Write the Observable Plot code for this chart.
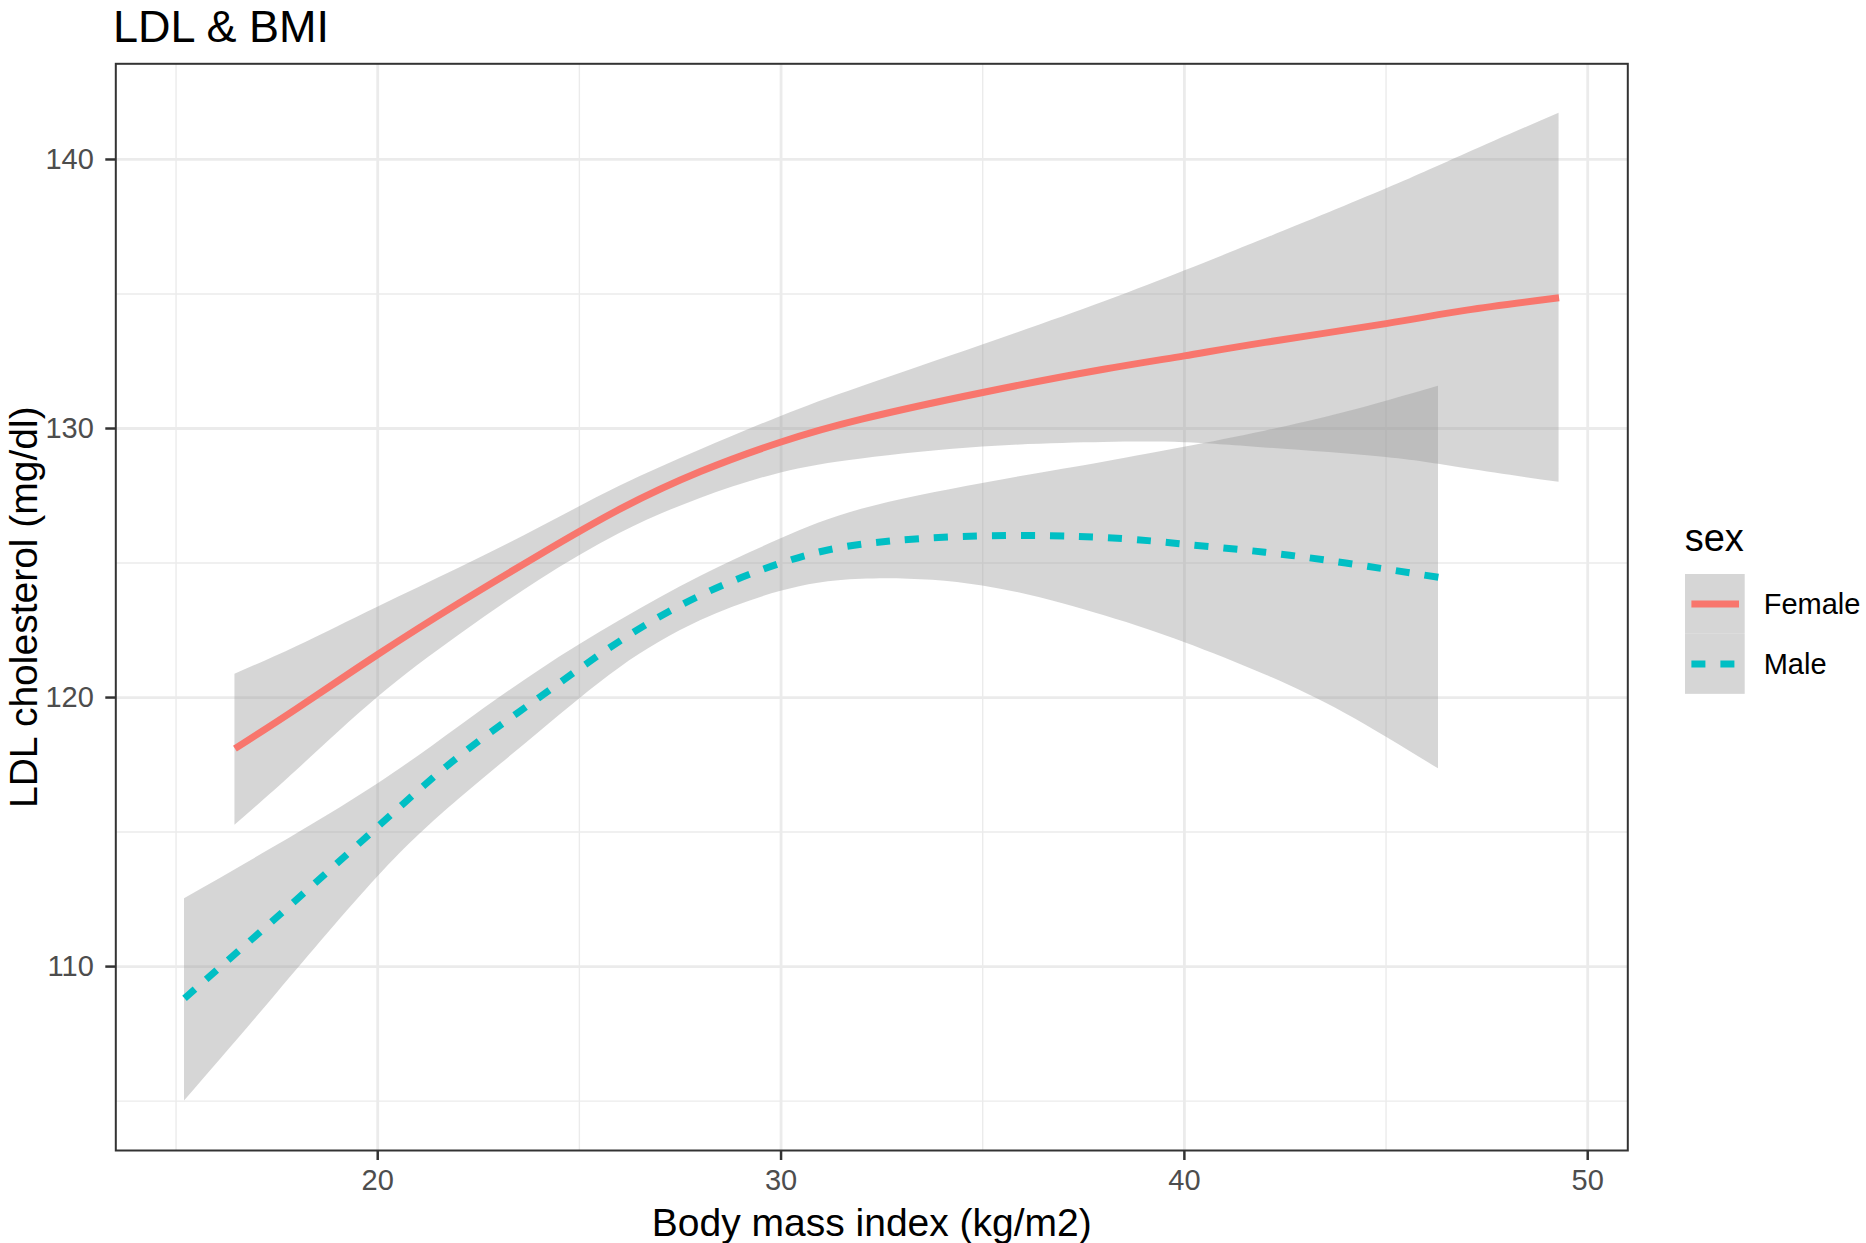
<!DOCTYPE html>
<html>
<head>
<meta charset="utf-8">
<script src="https://cdn.jsdelivr.net/npm/d3@7"></script>
<script src="https://cdn.jsdelivr.net/npm/@observablehq/plot@0.6"></script>
<style>
  body { margin: 0; background: #fff; }
  #wrap { position: relative; width: 1866px; height: 1243px; overflow: hidden; background: #fff;
          font-family: "Liberation Sans", Arial, Helvetica, sans-serif; color: #000; }
  #title { position: absolute; left: 113px; top: 4px; font-size: 45px; line-height: 45px; white-space: nowrap; }
  #chart { position: absolute; left: 0; top: 48px; }
  .leg { position: absolute; white-space: nowrap; }
  .legkey { position: absolute; }
</style>
</head>
<body>
<div id="wrap">
  <div id="title">LDL &amp; BMI</div>
  <div id="chart"></div>
  <div id="legend"></div>
</div>
<script>
// ---- data ----
const femaleBMI   = [16.46, 18, 20, 22, 24, 26, 28, 30, 32, 35, 38, 40, 42, 45, 47, 49.29];
const femaleFit   = [118.1, 119.6, 121.6, 123.5, 125.3, 127.0, 128.4, 129.5, 130.35, 131.34, 132.2, 132.7, 133.2, 133.9, 134.4, 134.86];
const femaleUpper = [120.87, 121.9, 123.36, 124.8, 126.3, 127.85, 129.2, 130.45, 131.55, 133.1, 134.7, 135.85, 137.05, 138.9, 140.22, 141.72];
const femaleLower = [115.25, 117.3, 120.0, 122.3, 124.35, 126.1, 127.4, 128.35, 128.87, 129.31, 129.48, 129.47, 129.28, 128.92, 128.5, 128.0];

const maleBMI   = [15.21, 17.5, 20, 22, 24, 26, 28, 30, 32, 35, 38, 40, 42, 44, 46.3];
const maleFit   = [108.82, 111.84, 115.2, 117.8, 120.0, 122.1, 123.8, 125.0, 125.7, 126.01, 125.95, 125.7, 125.4, 125.0, 124.47];
const maleUpper = [112.52, 114.5, 116.79, 118.9, 121.0, 122.85, 124.5, 125.9, 127.0, 127.96, 128.75, 129.3, 129.9, 130.6, 131.57];
const maleLower = [105.0, 109.0, 113.33, 116.2, 118.7, 121.1, 122.85, 123.95, 124.4, 124.15, 123.05, 122.05, 120.85, 119.4, 117.35];

const sexLevels = ["Female", "Male"];
const sexColors = ["#F8766D", "#00BFC4"];
const sexDash = [null, "14,15"];

const xTicks = [20, 30, 40, 50];
const xMinor = [15, 25, 35, 45];
const yTicks = [110, 120, 130, 140];
const yMinor = [105, 115, 125, 135];

const titleText = "LDL & BMI";
const xLabel = "Body mass index (kg/m2)";
const yLabel = "LDL cholesterol (mg/dl)";
const legendTitle = "sex";

// ---- build tables ----
const femaleRows = femaleBMI.map((x, i) => ({x, fit: femaleFit[i], lo: femaleLower[i], hi: femaleUpper[i]}));
const maleRows = maleBMI.map((x, i) => ({x, fit: maleFit[i], lo: maleLower[i], hi: maleUpper[i]}));

// ggplot-style 5% expansion of data ranges
const allX = femaleBMI.concat(maleBMI);
const allY = femaleUpper.concat(femaleLower, maleUpper, maleLower);
const xmin = d3.min(allX), xmax = d3.max(allX);
const ymin = d3.min(allY), ymax = d3.max(allY);
const ex = 0.05 * (xmax - xmin), ey = 0.05 * (ymax - ymin);

const FONT = '"Liberation Sans", Arial, Helvetica, sans-serif';
const H = 1243 - 48;
const LW = 7;

const chart = Plot.plot({
  width: 1866,
  height: H,
  marginLeft: 115.3,
  marginRight: 238.7,
  marginTop: 15.3,
  marginBottom: 93,
  x: {domain: [xmin - ex, xmax + ex]},
  y: {domain: [ymin - ey, ymax + ey]},
  style: {fontFamily: FONT, background: "white", overflow: "visible"},
  marks: [
    Plot.ruleX(xMinor, {stroke: "#EBEBEB", strokeWidth: 1.4}),
    Plot.ruleY(yMinor, {stroke: "#EBEBEB", strokeWidth: 1.4}),
    Plot.ruleX(xTicks, {stroke: "#EBEBEB", strokeWidth: 2.8}),
    Plot.ruleY(yTicks, {stroke: "#EBEBEB", strokeWidth: 2.8}),
    Plot.areaY(femaleRows, {x: "x", y1: "lo", y2: "hi", fill: "#999999", fillOpacity: 0.4, curve: "natural"}),
    Plot.line(femaleRows, {x: "x", y: "fit", stroke: sexColors[0], strokeWidth: LW, strokeLinecap: "butt", curve: "natural"}),
    Plot.areaY(maleRows, {x: "x", y1: "lo", y2: "hi", fill: "#999999", fillOpacity: 0.4, curve: "natural"}),
    Plot.line(maleRows, {x: "x", y: "fit", stroke: sexColors[1], strokeWidth: LW, strokeLinecap: "butt", strokeDasharray: sexDash[1], curve: "natural"}),
    Plot.frame({stroke: "#333333", strokeWidth: 2}),
    Plot.axisX(xTicks, {tickSize: 10, tickPadding: 9, stroke: "#333333", strokeWidth: 2.5, fill: "#4D4D4D", fontSize: 29, label: null}),
    Plot.axisY(yTicks, {tickSize: 10, tickPadding: 12, stroke: "#333333", strokeWidth: 2.5, fill: "#4D4D4D", fontSize: 29, label: null}),
    Plot.text([xLabel], {text: d => d, frameAnchor: "bottom", dy: 85, lineAnchor: "bottom", textAnchor: "middle", fontSize: 39, fill: "black"}),
    Plot.text([yLabel], {text: d => d, frameAnchor: "left", dx: -78.6, rotate: -90, lineAnchor: "bottom", textAnchor: "middle", fontSize: 39, fill: "black"})
  ]
});
document.getElementById("chart").appendChild(chart);

// ---- legend ----
const leg = document.getElementById("legend");
const lt = document.createElement("div");
lt.className = "leg";
lt.style.cssText = "left:1684.7px;top:518.5px;font-size:38px;line-height:38px;";
lt.textContent = legendTitle;
leg.appendChild(lt);

const keyTop = 574.3, keyH = 59.85, keyW = 59.7;
sexLevels.forEach((lvl, i) => {
  const top = keyTop + i * keyH;
  const ns = "http://www.w3.org/2000/svg";
  const svg = document.createElementNS(ns, "svg");
  svg.setAttribute("class", "legkey");
  svg.setAttribute("width", keyW);
  svg.setAttribute("height", keyH);
  svg.style.left = "1685.3px";
  svg.style.top = top + "px";
  const r = document.createElementNS(ns, "rect");
  r.setAttribute("width", keyW); r.setAttribute("height", keyH);
  r.setAttribute("fill", "#999999"); r.setAttribute("fill-opacity", "0.4");
  svg.appendChild(r);
  const l = document.createElementNS(ns, "line");
  l.setAttribute("x1", "6.4"); l.setAttribute("x2", "54");
  l.setAttribute("y1", keyH / 2); l.setAttribute("y2", keyH / 2);
  l.setAttribute("stroke", sexColors[i]); l.setAttribute("stroke-width", LW);
  if (sexDash[i]) l.setAttribute("stroke-dasharray", sexDash[i]);
  svg.appendChild(l);
  leg.appendChild(svg);

  const t = document.createElement("div");
  t.className = "leg";
  t.style.cssText = `left:1763.7px;top:${589.75 + i * 60.7}px;font-size:29px;line-height:29px;`;
  t.textContent = lvl;
  leg.appendChild(t);
});
</script>
</body>
</html>
